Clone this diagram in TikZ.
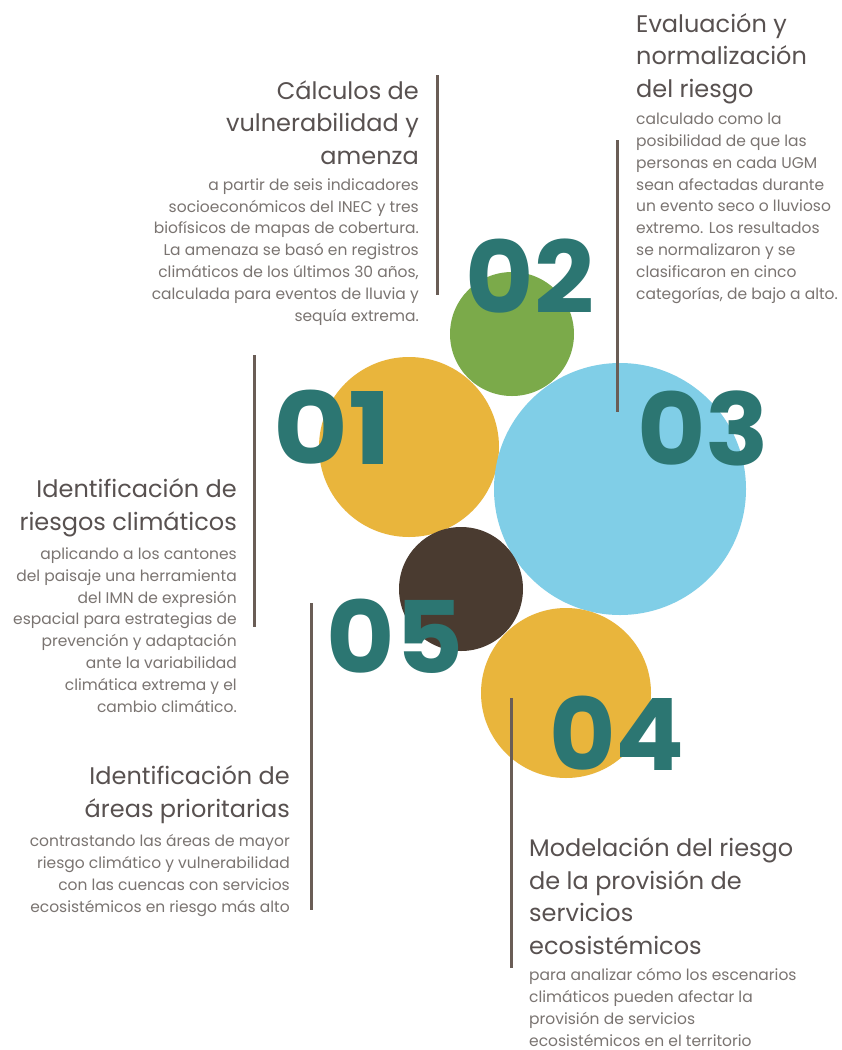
\documentclass[tikz,border=0pt]{standalone}
\usepackage{fontspec}
\setmainfont{Poppins}
\usetikzlibrary{positioning}
\definecolor{ocre}{HTML}{E9B53C}
\definecolor{verde}{HTML}{7BAA4A}
\definecolor{celeste}{HTML}{80CEE7}
\definecolor{cafe}{HTML}{4A3B30}
\definecolor{petroleo}{HTML}{2C7672}
\definecolor{barra}{HTML}{6A5D56}
\definecolor{titulo}{HTML}{585150}
\definecolor{cuerpo}{HTML}{7A7471}

\begin{document}
\begin{tikzpicture}[x=1pt,y=-1pt,
  bubble/.style={circle,inner sep=0pt,minimum size=#1},
  num node/.style={inner sep=0pt,text=petroleo,font=\fontsize{100}{100}\selectfont\bfseries},
  head node/.style={inner sep=0pt,text=titulo,font=\fontsize{24}{32.5}\selectfont},
  body node/.style={inner sep=0pt,text=cuerpo,font=\fontsize{15.5}{21.8}\selectfont},
  bar/.style={draw=barra,line width=3pt}]

  \useasboundingbox[fill=white] (0,0) rectangle (842,1050);

  \node[bubble=124pt,fill=verde] (c2) at (512,334) {};
  \node[bubble=180pt,fill=ocre] (c1) at (409,447) {};
  \node[bubble=252pt,fill=celeste] (c3) at (620,489) {};
  \node[bubble=170pt,fill=ocre] (c4) at (566,693) {};
  \node[bubble=124pt,fill=cafe] (c5) at (461,589) {};

  \coordinate (a1) at (437,75);  \coordinate (a2) at (437,295);
  \coordinate (b1) at (617,140); \coordinate (b2) at (617,412);
  \coordinate (d1) at (254,355); \coordinate (d2) at (254,627);
  \coordinate (e1) at (311,603); \coordinate (e2) at (311,910);
  \coordinate (f1) at (511,698); \coordinate (f2) at (511,968);
  \draw[bar] (a1) -- (a2);
  \draw[bar] (b1) -- (b2);
  \draw[bar] (d1) -- (d2);
  \draw[bar] (e1) -- (e2);
  \draw[bar] (f1) -- (f2);

  \node[num node] (n1) at (333,427) {\scalebox{1.15}[1]{01}};
  \node[num node] (n2) at (530,276) {\scalebox{1.05}[1]{02}};
  \node[num node] (n3) at (703,428) {\scalebox{1.05}[1]{03}};
  \node[num node] (n4) at (617,733) {\scalebox{1.02}[1]{04}};
  \node[num node] (n5) at (395,636) {\scalebox{1.05}[1]{05}};

  \node[head node,align=right,anchor=base east] (t1) at (419,164)
    {Cálculos de\\vulnerabilidad y\\amenza};
  \node[body node,align=right,anchor=base east] (p1) at (419,321)
    {a partir de seis indicadores\\socioeconómicos del INEC y tres\\biofísicos de mapas de cobertura.\\La amenaza se basó en registros\\climáticos de los últimos 30 años,\\calculada para eventos de lluvia y\\sequía extrema.};

  \node[head node,align=left,anchor=base west] (t2) at (636,97)
    {Evaluación y\\normalización\\del riesgo};
  \node[body node,align=left,anchor=base west] (p2) at (636,299)
    {calculado como la\\posibilidad de que las\\personas en cada UGM\\sean afectadas durante\\un evento seco o lluvioso\\extremo. Los resultados\\se normalizaron y se\\clasificaron en cinco\\categorías, de bajo a alto.};

  \node[head node,align=right,anchor=base east] (t3) at (237,530)
    {Identificación de\\riesgos climáticos};
  \node[body node,align=right,anchor=base east] (p3) at (237,712)
    {aplicando a los cantones\\del paisaje una herramienta\\del IMN de expresión\\espacial para estrategias de\\prevención y adaptación\\ante la variabilidad\\climática extrema y el\\cambio climático.};

  \node[head node,align=right,anchor=base east] (t5) at (290,817)
    {Identificación de\\áreas prioritarias};
  \node[body node,align=right,anchor=base east] (p5) at (290,912)
    {contrastando las áreas de mayor\\riesgo climático y vulnerabilidad\\con las cuencas con servicios\\ecosistémicos en riesgo más alto};

  \node[head node,align=left,anchor=base west] (t4) at (529,954)
    {Modelación del riesgo\\de la provisión de\\servicios\\ecosistémicos};
  \node[body node,align=left,anchor=base west] (p4) at (529,1046)
    {para analizar cómo los escenarios\\climáticos pueden afectar la\\provisión de servicios\\ecosistémicos en el territorio};
\end{tikzpicture}
\end{document}
